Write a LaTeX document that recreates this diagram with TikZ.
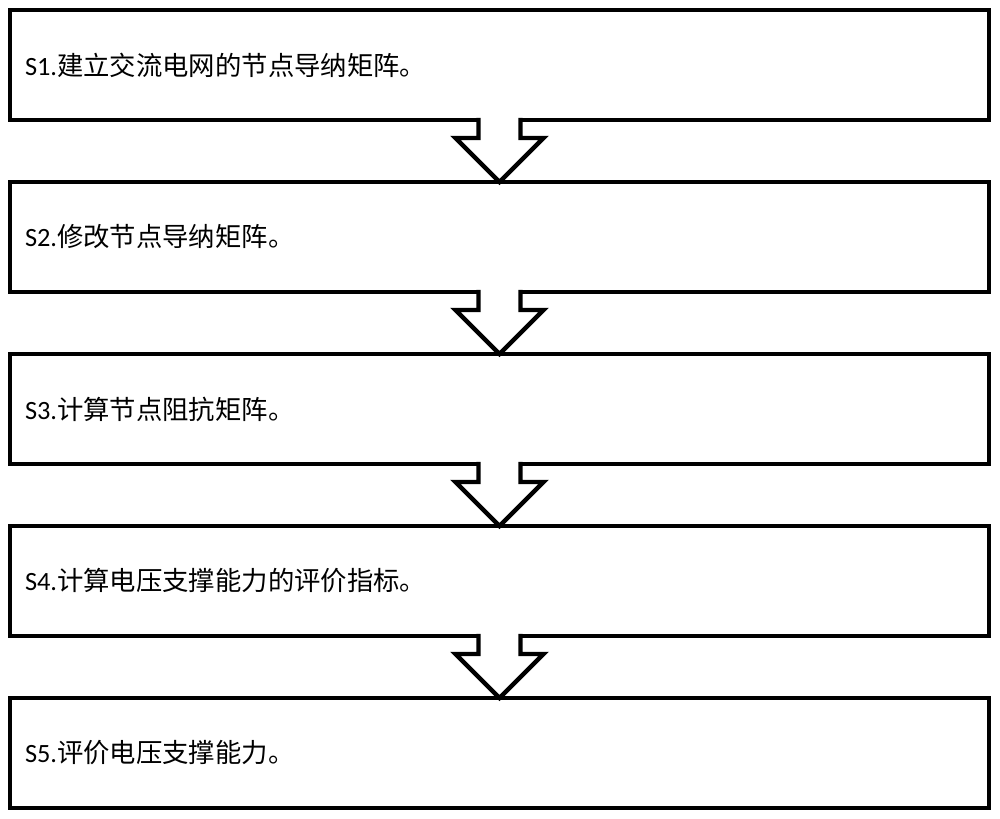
\documentclass[tikz,border=0pt]{standalone}
\usepackage{fontspec}
\setmainfont{Carlito}
\newfontfamily\cjk{Noto Sans CJK SC}
\usepackage{tikz}
\usetikzlibrary{positioning,calc}

\tikzset{
  stepbox/.style={draw, line width=2.5pt, outer sep=0pt, inner xsep=0.3cm,
    minimum width=19.58cm, minimum height=2.2cm, text width=18.98cm,
    align=left, font=\fontsize{15pt}{18pt}\selectfont},
  blockarrow/.style={draw, line width=2.5pt, line join=miter, miter limit=4}
}

\begin{document}
\begin{tikzpicture}
    \useasboundingbox (0,0) rectangle (20,-16.38);
    \node[stepbox] (s1) at (9.99,-1.3) {S1.{\cjk 建立交流电网的节点导纳矩阵。}};
    \node[stepbox, below=1.24cm of s1] (s2) {S2.{\cjk 修改节点导纳矩阵。}};
    \node[stepbox, below=1.24cm of s2] (s3) {S3.{\cjk 计算节点阻抗矩阵。}};
    \node[stepbox, below=1.24cm of s3] (s4) {S4.{\cjk 计算电压支撑能力的评价指标。}};
    \node[stepbox, below=1.24cm of s4] (s5) {S5.{\cjk 评价电压支撑能力。}};
    \foreach \a/\b in {s1/s2,s2/s3,s3/s4,s4/s5}
    {
      \fill[white] ($(\a.south)+(-0.42,0.06)$) -- ($(\a.south)+(-0.42,-0.36)$)
        -- ($(\a.south)+(-0.88,-0.36)$) -- (\b.north)
        -- ($(\a.south)+(0.88,-0.36)$) -- ($(\a.south)+(0.42,-0.36)$)
        -- ($(\a.south)+(0.42,0.06)$) -- cycle;
      \draw[blockarrow] ($(\a.south)+(-0.42,0.044)$) -- ($(\a.south)+(-0.42,-0.36)$)
        -- ($(\a.south)+(-0.88,-0.36)$) -- (\b.north)
        -- ($(\a.south)+(0.88,-0.36)$) -- ($(\a.south)+(0.42,-0.36)$)
        -- ($(\a.south)+(0.42,0.044)$);
    }
\end{tikzpicture}
\end{document}
